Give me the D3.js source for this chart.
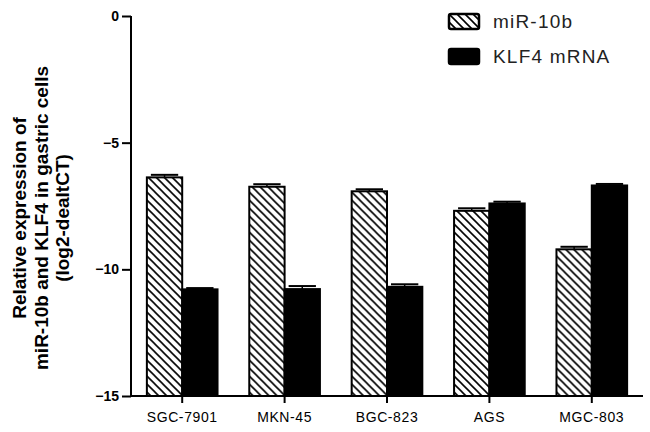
<!DOCTYPE html>
<html>
<head>
<meta charset="utf-8">
<script src="https://cdn.jsdelivr.net/npm/d3@7"></script>
<style>
  body { margin: 0; background: #fff; }
  svg { display: block; font-family: Arial, "Liberation Sans", sans-serif; }
</style>
</head>
<body>
<div id="chart"></div>
<script>
// data
var cells = ["SGC-7901", "MKN-45", "BGC-823", "AGS", "MGC-803"];
var seriesNames = ["miR-10b", "KLF4 mRNA"];
var mir10b = [-6.37, -6.74, -6.92, -7.69, -9.21];
var mir10bErr = [0.1, 0.1, 0.08, 0.1, 0.1];
var klf4 = [-10.79, -10.78, -10.69, -7.40, -6.69];
var klf4Err = [0.05, 0.12, 0.1, 0.07, 0.06];
var yTicks = [0, -5, -10, -15];

var width = 650, height = 432;
var plotLeft = 131, plotRight = 643, plotTop = 16, plotBottom = 396;

var svg = d3.select("#chart").append("svg")
  .attr("width", width)
  .attr("height", height);

// hatch pattern for miR-10b
var defs = svg.append("defs");
defs.append("pattern")
  .attr("id", "hatch")
  .attr("patternUnits", "userSpaceOnUse")
  .attr("width", 8)
  .attr("height", 8)
  .append("path")
  .attr("d", "M0,0 L8,8 M-2,6 L2,10 M6,-2 L10,2")
  .attr("stroke", "#000")
  .attr("stroke-width", 1.6);

var x = d3.scaleBand()
  .domain(cells)
  .range([plotLeft, plotRight])
  .paddingInner(0.31)
  .paddingOuter(0.155);

var x1 = d3.scaleBand()
  .domain(seriesNames)
  .range([0, x.bandwidth()]);

var y = d3.scaleLinear()
  .domain([-15, 0])
  .range([plotBottom, plotTop]);

var rows = cells.map(function(c, i) {
  return [
    { cell: c, s: seriesNames[0], v: mir10b[i], e: mir10bErr[i] },
    { cell: c, s: seriesNames[1], v: klf4[i], e: klf4Err[i] }
  ];
});

var groups = svg.append("g").selectAll("g")
  .data(rows)
  .enter()
  .append("g")
  .attr("transform", function(d) { return "translate(" + x(d[0].cell) + ",0)"; });

var bars = groups.selectAll("g")
  .data(function(d) { return d; })
  .enter()
  .append("g");

// error bars (upper only)
bars.append("line")
  .attr("x1", function(d) { return x1(d.s) + x1.bandwidth() / 2; })
  .attr("x2", function(d) { return x1(d.s) + x1.bandwidth() / 2; })
  .attr("y1", function(d) { return y(d.v); })
  .attr("y2", function(d) { return y(d.v + d.e); })
  .attr("stroke", "#000")
  .attr("stroke-width", 1.5);

bars.append("line")
  .attr("x1", function(d) { return x1(d.s) + 4; })
  .attr("x2", function(d) { return x1(d.s) + x1.bandwidth() - 4; })
  .attr("y1", function(d) { return y(d.v + d.e); })
  .attr("y2", function(d) { return y(d.v + d.e); })
  .attr("stroke", "#000")
  .attr("stroke-width", 2);

bars.append("rect")
  .attr("x", function(d) { return x1(d.s); })
  .attr("width", x1.bandwidth())
  .attr("y", function(d) { return y(d.v); })
  .attr("height", function(d) { return y(-15) - y(d.v); })
  .attr("fill", function(d) { return d.s == "miR-10b" ? "url(#hatch)" : "#000"; })
  .attr("stroke", "#000")
  .attr("stroke-width", 2);

// y axis
var yAxis = svg.append("g")
  .attr("transform", "translate(" + plotLeft + ",0)")
  .call(d3.axisLeft(y).tickValues(yTicks).tickSize(9).tickPadding(3).tickFormat(d3.format("d")));
yAxis.select(".domain").attr("d", "M0," + plotTop + "V" + plotBottom).attr("stroke-width", 2);
yAxis.selectAll(".tick line").attr("stroke-width", 2);
yAxis.selectAll(".tick text")
  .attr("font-size", 14)
  .attr("font-weight", "bold")
  .attr("fill", "#000");

// x axis
var xAxis = svg.append("g")
  .attr("transform", "translate(0," + plotBottom + ")")
  .call(d3.axisBottom(x).tickSize(7).tickPadding(9));
xAxis.select(".domain").attr("d", "M" + plotLeft + ",0H" + plotRight).attr("stroke-width", 2);
xAxis.selectAll(".tick line")
  .attr("x1", x1.bandwidth() - x.bandwidth() / 2)
  .attr("x2", x1.bandwidth() - x.bandwidth() / 2)
  .attr("stroke-width", 2);
xAxis.selectAll(".tick text")
  .attr("x", x1.bandwidth() - x.bandwidth() / 2)
  .attr("font-size", 14)
  .attr("letter-spacing", 0.6)
  .attr("fill", "#000");

// y label
var ylab = svg.append("text")
  .attr("transform", "translate(26,218) rotate(-90)")
  .attr("text-anchor", "middle")
  .attr("font-size", 19)
  .attr("font-weight", "bold")
  .attr("fill", "#000");
["Relative expression of", "miR-10b and KLF4 in gastric cells", "(log2-dealtCT)"].forEach(function(t, i) {
  ylab.append("tspan").attr("x", 0).attr("y", i * 21.5).text(t);
});

// legend
var legend = svg.append("g").selectAll("g")
  .data(seriesNames)
  .enter()
  .append("g")
  .attr("transform", function(d, i) { return "translate(449," + (14 + i * 35) + ")"; });

legend.append("rect")
  .attr("width", 30)
  .attr("height", 15)
  .attr("rx", 2)
  .attr("fill", function(d, i) { return i == 0 ? "url(#hatch)" : "#000"; })
  .attr("stroke", "#000")
  .attr("stroke-width", 2.5);

legend.append("text")
  .attr("x", 44)
  .attr("y", 14)
  .attr("font-size", 19)
  .attr("letter-spacing", 1.2)
  .attr("fill", "#222")
  .text(function(d) { return d; });
</script>
</body>
</html>
